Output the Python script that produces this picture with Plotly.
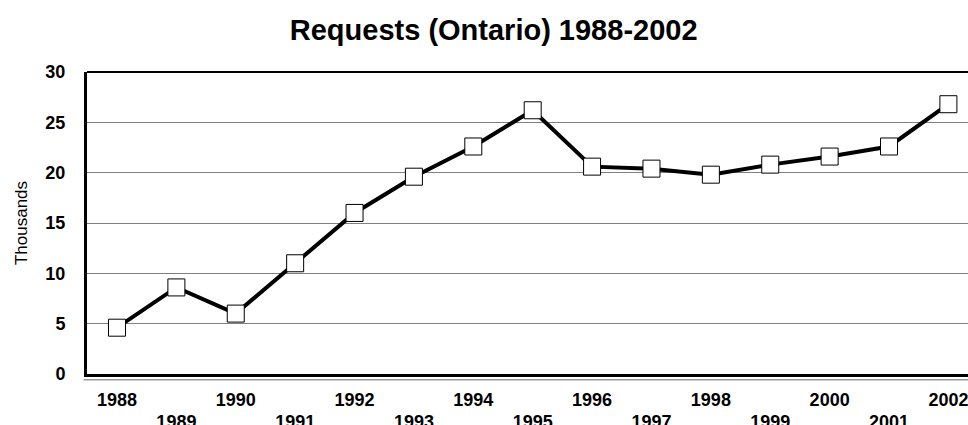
import plotly.graph_objects as go

years = list(range(1988, 2003))
requests_thousands = [4.6, 8.6, 6.0, 11.0, 16.0, 19.6, 22.6, 26.2, 20.6, 20.4, 19.8, 20.8, 21.6, 22.6, 26.8]
even_years = [y for y in years if y % 2 == 0]
odd_years = [y for y in years if y % 2 == 1]
y_ticks = [0, 5, 10, 15, 20, 25, 30]

FONT = "Liberation Sans, Arial, sans-serif"
TICKFONT = dict(family=FONT, size=18, color="black", weight="bold")
XRANGE = [1987.495, 2002.33]

fig = go.Figure()
fig.add_trace(go.Scatter(
    x=years, y=requests_thousands, mode="lines+markers",
    line=dict(color="black", width=4),
    marker=dict(symbol="square", size=17, color="white", line=dict(color="black", width=1)),
    showlegend=False, cliponaxis=False,
))
# invisible companion trace so the second (odd-year label) axis is drawn
fig.add_trace(go.Scatter(
    x=years, y=requests_thousands, xaxis="x2", mode="markers",
    marker=dict(opacity=0), hoverinfo="skip", showlegend=False,
))

# thin gray line under the x axis (double-rule look)
fig.add_shape(type="line", xref="paper", yref="paper", x0=-0.004, x1=1, y0=-0.019, y1=-0.019,
              line=dict(color="#999999", width=1.5))
# top border
fig.add_shape(type="line", xref="paper", yref="paper", x0=0, x1=1, y0=1, y1=1,
              line=dict(color="black", width=2))

fig.update_layout(
    width=968, height=425,
    margin=dict(l=87, r=0, t=72, b=51, autoexpand=False),
    paper_bgcolor="white", plot_bgcolor="white",
    title=dict(text="<b>Requests (Ontario) 1988-2002</b>", x=0.510, xanchor="center",
               y=0.929, yanchor="middle", font=dict(family=FONT, size=29, color="black")),
    font=dict(family=FONT, color="black"),
    xaxis=dict(
        range=XRANGE, tickmode="array", tickvals=even_years, ticktext=[str(y) for y in even_years],
        showgrid=False, zeroline=False, showline=True, linecolor="black", linewidth=3,
        ticks="", ticklabelstandoff=7, ticklabeloverflow="allow", automargin=False,
        tickfont=TICKFONT,
    ),
    xaxis2=dict(
        overlaying="x", matches="x", anchor="y", side="bottom",
        range=XRANGE, tickmode="array", tickvals=odd_years, ticktext=[str(y) for y in odd_years],
        showgrid=False, zeroline=False, showline=False,
        ticks="", ticklabelstandoff=35, ticklabeloverflow="allow", automargin=False,
        tickfont=TICKFONT,
    ),
    yaxis=dict(
        range=[0, 30], tickmode="array", tickvals=y_ticks, automargin=False,
        showgrid=True, gridcolor="#808080", gridwidth=1, zeroline=False,
        showline=True, linecolor="black", linewidth=3, ticks="", ticklabelstandoff=15,
        tickfont=TICKFONT,
        title=dict(text="Thousands", font=dict(family=FONT, size=17, color="black"), standoff=14),
    ),
)

fig.write_html("out.html", config={"displayModeBar": False},
               post_script="document.body.style.margin='0';document.body.style.overflow='hidden';")
